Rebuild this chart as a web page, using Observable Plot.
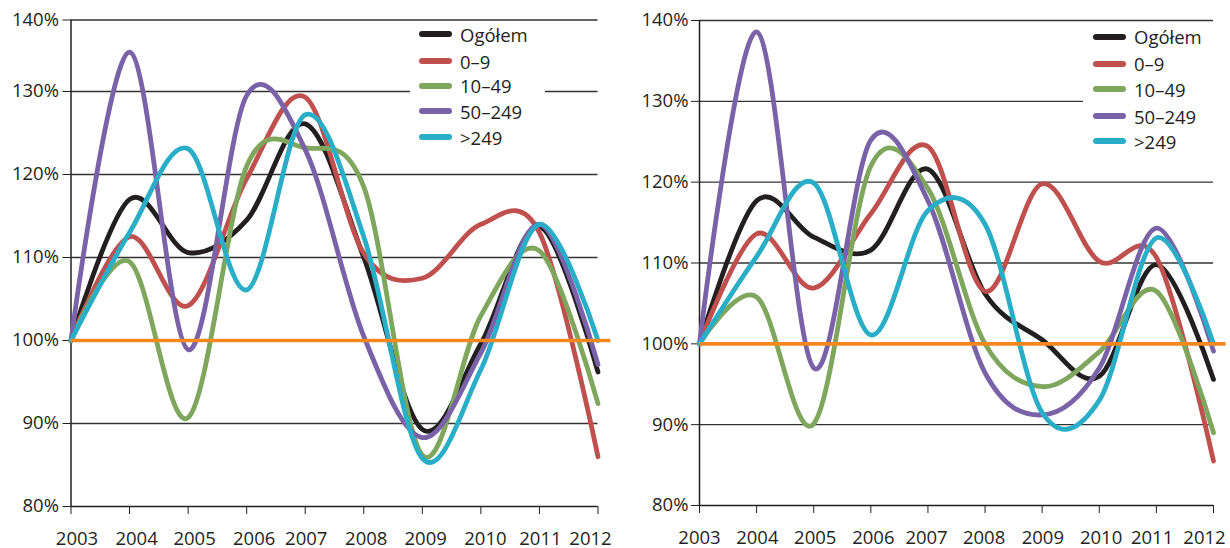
<!DOCTYPE html>
<html>
<head>
<meta charset="utf-8">
<script src="https://cdn.jsdelivr.net/npm/d3@7"></script>
<script src="https://cdn.jsdelivr.net/npm/@observablehq/plot@0.6"></script>
<style>
  html, body { margin: 0; padding: 0; background: #fff; }
  #wrap { position: relative; width: 1230px; height: 548px; overflow: hidden; font-family: 'Open Sans', sans-serif; color: #231f20; }
  .panel { position: absolute; top: 0; width: 615px; height: 548px; }
  .panel svg { position: absolute; left: 0; top: 0; overflow: visible; }
  .legend { position: absolute; background: #fff; }
  .item { position: absolute; left: 0; height: 26px; display: flex; align-items: center; font-size: 18.5px; white-space: nowrap; }
  .sw { width: 33px; height: 6px; border-radius: 3px; margin-right: 8px; }
</style>
</head>
<body>
<div id="wrap">
  <div class="panel" id="left" style="left:0"></div>
  <div class="panel" id="right" style="left:615px"></div>
</div>
<script>
const years = [2003, 2004, 2005, 2006, 2007, 2008, 2009, 2010, 2011, 2012];
const seriesNames = ["Ogółem", "0–9", "10–49", "50–249", ">249"];
const seriesColors = ["#231f20", "#c0504d", "#7ea65c", "#7a62a8", "#2aaec8"];
const yTicks = [80, 90, 100, 110, 120, 130, 140];

// Left panel values (%)
const leftOgolem = [100, 117.0, 110.6, 114.5, 126.1, 110.0, 89.3, 99.6, 113.7, 96.2];
const left0_9    = [100, 112.5, 104.2, 119.5, 129.3, 110.5, 107.5, 114.0, 113.0, 86.0];
const left10_49  = [100, 109.5, 90.7, 121.0, 123.2, 118.5, 86.2, 103.0, 110.8, 92.4];
const left50_249 = [100, 135.5, 98.9, 129.5, 123.0, 100.5, 88.3, 98.5, 114.0, 97.1];
const leftGt249  = [100, 113.0, 123.1, 106.1, 127.2, 112.5, 85.8, 96.5, 114.0, 100.0];

// Right panel values (%)
const rightOgolem = [100, 117.7, 113.2, 111.6, 121.6, 106.2, 100.5, 96.0, 109.8, 95.6];
const right0_9    = [100, 113.6, 106.9, 116.1, 124.4, 106.5, 119.8, 110.2, 110.7, 85.5];
const right10_49  = [100, 105.8, 90.1, 122.0, 119.2, 100.0, 94.7, 99.0, 106.5, 89.0];
const right50_249 = [100, 138.6, 97.0, 125.2, 117.7, 96.4, 91.2, 97.0, 114.3, 99.1];
const rightGt249  = [100, 110.8, 119.9, 101.1, 116.5, 114.8, 91.5, 93.0, 113.1, 100.0];

function toRows(seriesValues) {
  const rows = [];
  seriesNames.forEach((name, i) => {
    years.forEach((yr, j) => rows.push({year: yr, series: name, value: seriesValues[i][j]}));
  });
  return rows;
}

const ink = "#231f20";

function panel(seriesValues, cfg) {
  const rows = toRows(seriesValues);
  const tf = cfg.tf || (v => v);
  const inv = cfg.inv || (v => v);
  const yScale = {domain: [80, tf(140)]};
  if (cfg.tf) yScale.transform = cfg.tf;
  const labelAxes = years.map((yr, i) => Plot.axisX({
    ticks: [yr], tickFormat: d => String(d), tickSize: 0, tickPadding: 25, stroke: "none",
    fill: ink, label: null, fontSize: 18.5, dx: cfg.labelDx[i]
  }));
  return Plot.plot({
    width: 615,
    height: 548,
    marginLeft: cfg.m[3], marginRight: cfg.m[1], marginTop: cfg.m[0], marginBottom: cfg.m[2],
    style: {fontFamily: "'Open Sans', sans-serif", fontSize: "18.5px", color: ink, background: "transparent", overflow: "visible"},
    x: {domain: [2003, 2012]},
    y: yScale,
    color: {domain: seriesNames, range: seriesColors},
    marks: [
      Plot.ruleY(yTicks.slice(1), {x1: () => 2003, x2: () => 2012, stroke: "#333", strokeWidth: 1.4}),
      Plot.axisY({ticks: yTicks.map(tf), tickFormat: d => Math.round(inv(d)) + "%", tickSize: 8, tickPadding: cfg.yPad, stroke: ink, fill: ink, label: null, fontSize: 18.5}),
      Plot.axisX({ticks: years, tickFormat: () => "", tickSize: 8, stroke: ink, label: null}),
      ...labelAxes,
      Plot.ruleX([2003], {y1: () => 80, y2: () => 140, stroke: ink, strokeWidth: 1.5}),
      Plot.ruleY([80], {x1: () => 2003, x2: () => 2012, stroke: ink, strokeWidth: 1.5}),
      Plot.line(rows, {x: "year", y: "value", z: "series", stroke: "series", curve: "cardinal", tension: 0, strokeWidth: 4.8, strokeLinecap: "round", strokeLinejoin: "round"}),
      Plot.ruleY([100], {x1: () => 2003, x2: () => 2012.22, stroke: "#f5871f", strokeWidth: 3.6})
    ]
  });
}

function legend(container, cfg) {
  const box = document.createElement("div");
  box.className = "legend";
  Object.assign(box.style, {left: cfg.left + "px", top: cfg.top + "px", width: cfg.width + "px", height: cfg.height + "px"});
  seriesNames.forEach((name, i) => {
    const it = document.createElement("div");
    it.className = "item";
    it.style.left = cfg.swatchX + "px";
    it.style.top = (cfg.rows[i] - 13) + "px";
    const sw = document.createElement("div");
    sw.className = "sw";
    sw.style.background = seriesColors[i];
    const tx = document.createElement("span");
    tx.textContent = name;
    it.appendChild(sw);
    it.appendChild(tx);
    box.appendChild(it);
  });
  container.appendChild(box);
}

// left panel: the 130–140 band is drawn slightly compressed, as in the source
const k = (91 - 19.5) / 83;
const leftEl = document.getElementById("left");
leftEl.appendChild(panel([leftOgolem, left0_9, left10_49, left50_249, leftGt249], {
  m: [19.5, 17.5, 42, 70.5],
  tf: v => (v > 130 ? 130 + (v - 130) * k : v),
  inv: v => (v > 130 ? 130 + (v - 130) / k : v),
  yPad: 4,
  labelDx: [6, 7, 6.5, 7.5, 1, 2.5, 3.3, 4.5, 1, -7.5]
}));
legend(leftEl, {left: 410, top: 22, width: 135, height: 128, swatchX: 9, rows: [12, 39, 63.5, 89, 115]});

const rightEl = document.getElementById("right");
rightEl.appendChild(panel([rightOgolem, right0_9, right10_49, right50_249, rightGt249], {
  m: [20, 17, 43, 84], yPad: 3,
  labelDx: [0, 0.7, 1.5, 2.5, -1.4, -1, 0.7, 1.8, -4.3, -9]
}));
legend(rightEl, {left: 468, top: 24, width: 147, height: 130, swatchX: 10, rows: [12.6, 39.8, 65, 92, 117]});
</script>
</body>
</html>
